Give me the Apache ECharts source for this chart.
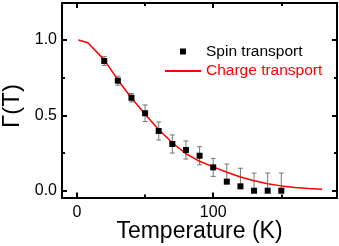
<!DOCTYPE html>
<html><head><meta charset="utf-8">
<script src="https://cdn.jsdelivr.net/npm/echarts@6/dist/echarts.min.js"></script>
<style>html,body{margin:0;padding:0;background:#fff}#c{width:339px;height:246px}</style>
</head><body><div id="c"></div>
<script>
const tempK = [20, 30, 40, 50, 60, 70, 80, 90, 100, 110, 120, 130, 140, 150];
const spinVals = [0.861, 0.730, 0.617, 0.514, 0.396, 0.310, 0.270, 0.232, 0.155, 0.060, 0.029, 0.0, 0.0, 0.0];
const errUp = [0.03, 0.03, 0.028, 0.055, 0.06, 0.06, 0.06, 0.06, 0.06, 0.117, 0.12, 0.117, 0.117, 0.117];
const errDown = [0.03, 0.03, 0.028, 0.055, 0.06, 0.06, 0.06, 0.06, 0.06, 0, 0, 0, 0, 0];
const curveT = [1, 8, 20, 30, 40, 50, 60, 70, 80, 90, 100, 110, 120, 130, 140, 150, 160, 170, 180];
const curveVals = [1.0, 0.982, 0.868, 0.735, 0.615, 0.508, 0.405, 0.318, 0.245, 0.195, 0.158, 0.122, 0.091, 0.066, 0.046, 0.032, 0.022, 0.015, 0.010];
const xMajor = [0, 100];
const xMinor = [50, 150];
const yMajor = [0, 0.5, 1.0];
const yMinor = [0.25, 0.75];
const seriesNames = ['Spin transport', 'Charge transport'];

const FONT = 'Liberation Sans, Arial, sans-serif';
const X_MIN = -11, X_MAX = 190.9, Y_MIN = -0.0451, Y_MAX = 1.2455;

function xAx(pos, ticks, len, labels) {
  return {
    type: 'value', position: pos, min: X_MIN, max: X_MAX,
    axisLine: { show: true, onZero: false, lineStyle: { color: '#000', width: 2 } },
    axisTick: { show: true, inside: true, length: len, customValues: ticks, lineStyle: { color: '#000', width: 2 } },
    axisLabel: labels ? { show: true, customValues: labels, margin: 7, color: '#000', fontSize: 16, fontFamily: FONT } : { show: false },
    splitLine: { show: false }
  };
}
function yAx(pos, ticks, len, labels) {
  return {
    type: 'value', position: pos, min: Y_MIN, max: Y_MAX,
    axisLine: { show: true, onZero: false, lineStyle: { color: '#000', width: 2 } },
    axisTick: { show: true, inside: true, length: len, customValues: ticks, lineStyle: { color: '#000', width: 2 } },
    axisLabel: labels ? { show: true, customValues: labels, margin: 5, color: '#000', fontSize: 16, fontFamily: FONT,
      formatter: v => v.toFixed(1) } : { show: false },
    splitLine: { show: false }
  };
}

const chart = echarts.init(document.getElementById('c'), null, { renderer: 'canvas' });
chart.setOption({
  animation: false,
  backgroundColor: '#fff',
  grid: { left: 62, top: 3, width: 275, height: 194.5, containLabel: false },
  xAxis: [
    xAx('bottom', xMajor, 5, xMajor),
    xAx('top', xMajor, 5, null),
    xAx('bottom', xMinor, 3, null),
    xAx('top', xMinor, 3, null)
  ],
  yAxis: [
    yAx('left', yMajor, 5, yMajor),
    yAx('right', yMajor, 5, null),
    yAx('left', yMinor, 3, null),
    yAx('right', yMinor, 3, null)
  ],
  legend: [
    { data: [{ name: seriesNames[0], icon: 'rect' }], left: 180, top: 43.5, padding: 0,
      itemWidth: 6, itemHeight: 6,
      textStyle: { color: '#000', fontSize: 15.5, fontFamily: FONT, padding: [0, 0, 0, 15] } },
    { data: [{ name: seriesNames[1], icon: 'rect' }], left: 165, top: 63, padding: 0,
      itemWidth: 36, itemHeight: 2,
      textStyle: { color: '#ff0000', fontSize: 15.5, fontFamily: FONT } }
  ],
  graphic: [
    { type: 'text', x: 199.5, y: 232,
      style: { text: 'Temperature (K)', fill: '#000', font: '23px ' + FONT, textAlign: 'center', textVerticalAlign: 'middle' } },
    { type: 'text', x: 12, y: 106, rotation: Math.PI / 2,
      style: { text: 'Γ(T)', fill: '#000', font: '24px ' + FONT, textAlign: 'center', textVerticalAlign: 'middle' } }
  ],
  series: [
    {
      type: 'custom', name: 'err', clip: true, z: 1, silent: true,
      data: tempK.map((t, i) => [t, spinVals[i] - errDown[i], spinVals[i] + errUp[i], errDown[i]]),
      renderItem: function (params, api) {
        const x = api.value(0);
        const lo = api.coord([x, api.value(1)]);
        const hi = api.coord([x, api.value(2)]);
        const w = 2.5;
        const style = { stroke: '#777', lineWidth: 1, fill: null };
        const children = [
          { type: 'line', shape: { x1: lo[0], y1: lo[1], x2: hi[0], y2: hi[1] }, style },
          { type: 'line', shape: { x1: hi[0] - w, y1: hi[1], x2: hi[0] + w, y2: hi[1] }, style }
        ];
        if (api.value(3) > 0) {
          children.push({ type: 'line', shape: { x1: lo[0] - w, y1: lo[1], x2: lo[0] + w, y2: lo[1] }, style });
        }
        return { type: 'group', children };
      }
    },
    {
      type: 'line', name: seriesNames[1], z: 2,
      data: curveT.map((t, i) => [t, curveVals[i]]),
      showSymbol: false, symbol: 'none', smooth: false,
      lineStyle: { color: '#ff0000', width: 1.5 },
      itemStyle: { color: '#ff0000' }
    },
    {
      type: 'scatter', name: seriesNames[0], z: 3,
      data: tempK.map((t, i) => [t, spinVals[i]]),
      symbol: 'rect', symbolSize: 6,
      itemStyle: { color: '#000', opacity: 1 }
    }
  ]
});
</script></body></html>
